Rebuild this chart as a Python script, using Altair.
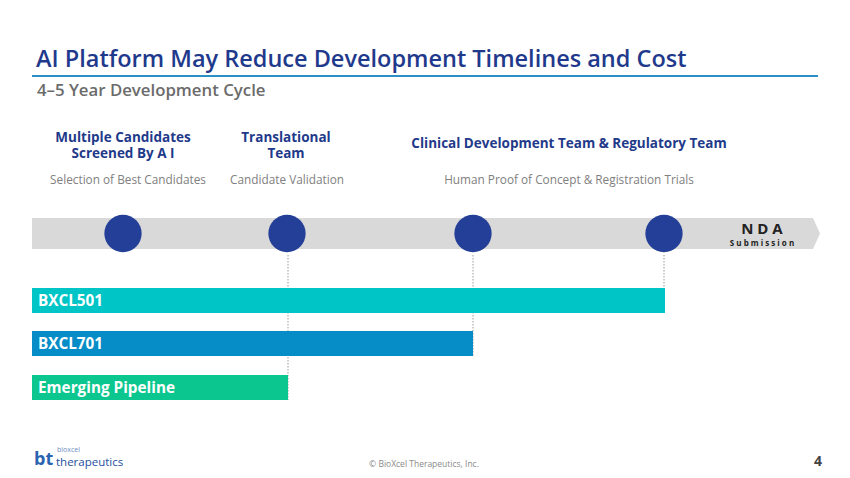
import altair as alt
import pandas as pd

# ---- page frame (data units == page pixels) ----
PX0, PX1 = 8, 842
PY0, PY1 = 8, 470

# ---- timeline ----
milestone_x = [123, 287, 473, 664]
milestone_y = [233.5, 233.5, 233.5, 233.5]
band_x0, band_x1 = [32], [813]
band_top, band_bottom = [218], [249]
tip_x = [813, 820]
tip_top = [218, 233.5]
tip_bottom = [249, 233.5]

# ---- programs ----
programs = ["BXCL501", "BXCL701", "Emerging Pipeline"]
program_start = [32, 32, 32]
program_end = [665, 473, 288]
program_top = [288, 331, 375]
program_bottom = [313, 356, 400]
program_colors = ["#00C5C7", "#068CC6", "#0BC68E"]

# ---- dotted guides from milestones to bars ----
guide_x = [288, 473, 664]
guide_top = [255, 255, 255]
guide_bottom = [400, 356, 313]

# ---- stage headers ----
header_text = ["Multiple Candidates\nScreened By A I", "Translational\nTeam",
               "Clinical Development Team & Regulatory Team"]
header_x = [123, 286, 569]
header_y = [141.5, 141.5, 147.5]
sub_text = ["Selection of Best Candidates", "Candidate Validation",
            "Human Proof of Concept & Registration Trials"]
sub_x = [128, 287, 569]
sub_y = [183.5, 183.5, 183.5]

title = "AI Platform May Reduce Development Timelines and Cost"
subtitle = "4\u20135 Year Development Cycle"

X = alt.Scale(domain=[PX0, PX1])
Y = alt.Scale(domain=[PY0, PY1], reverse=True)


def xq(f):
    return alt.X(f, type="quantitative", scale=X, axis=None)


def yq(f):
    return alt.Y(f, type="quantitative", scale=Y, axis=None)


band = alt.Chart(pd.DataFrame({"x": band_x0, "x2": band_x1, "y": band_top, "y2": band_bottom})).mark_rect(
    color="#D9D9D9"
).encode(x=xq("x"), x2="x2", y=yq("y"), y2="y2")

tip = alt.Chart(pd.DataFrame({"x": tip_x, "y": tip_top, "y2": tip_bottom})).mark_area(
    color="#D9D9D9", opacity=1, orient="vertical"
).encode(x=xq("x"), y=yq("y"), y2="y2")

underline = alt.Chart(pd.DataFrame({"x": [32], "x2": [818], "y": [76]})).mark_rule(
    color="#2A90C6", strokeWidth=2
).encode(x=xq("x"), x2="x2", y=yq("y"))

guides = alt.Chart(pd.DataFrame({"x": guide_x, "y": guide_top, "y2": guide_bottom})).mark_rule(
    color="#9A9A9A", strokeWidth=1, strokeDash=[1.5, 1.5]
).encode(x=xq("x"), y=yq("y"), y2="y2")

bars = alt.Chart(pd.DataFrame({
    "name": programs, "x": program_start, "x2": program_end,
    "y": program_top, "y2": program_bottom, "color": program_colors
})).mark_rect().encode(
    x=xq("x"), x2="x2", y=yq("y"), y2="y2", color=alt.Color("color:N", scale=None)
)

bar_labels = alt.Chart(pd.DataFrame({
    "name": programs, "x": [38, 38, 38],
    "y": [(t + b) / 2 + 5.5 for t, b in zip(program_top, program_bottom)]
})).mark_text(
    align="left", baseline="alphabetic", font="Open Sans", fontSize=15.3,
    fontWeight="bold", color="white"
).encode(x=xq("x"), y=yq("y"), text="name:N")

circles = alt.Chart(pd.DataFrame({"x": milestone_x, "y": milestone_y})).mark_circle(
    size=1390, color="#243F97", opacity=1
).encode(x=xq("x"), y=yq("y"))


def text_layer(texts, xs, ys, **kw):
    return alt.Chart(pd.DataFrame({"t": texts, "x": xs, "y": ys})).mark_text(
        baseline="alphabetic", font="Open Sans", **kw
    ).encode(x=xq("x"), y=yq("y"), text="t:N")


title_t = text_layer([title], [36], [67], align="left", fontSize=23.5,
                     fontWeight=600, color="#1F3A8C")
subtitle_t = text_layer([subtitle], [37], [96], align="left", fontSize=16.8,
                        fontWeight=600, color="#6B6B6B")
headers_t = text_layer(header_text, header_x, header_y, align="center", fontSize=13.5,
                       fontWeight="bold", color="#1F3A8A", lineBreak="\n", lineHeight=16.5)
subs_t = text_layer(sub_text, sub_x, sub_y, align="center", fontSize=11.8,
                    color="#808080")
nda_t = text_layer(["N D A"], [762], [234], align="center", fontSize=15,
                   fontWeight="bold", color="#222222")
subm_t = text_layer(["S u b m i s s i o n"], [762], [246], align="center", fontSize=8,
                    fontWeight="bold", color="#222222")
copy_t = text_layer(["\u00a9 BioXcel Therapeutics, Inc."], [424], [467], align="center",
                    fontSize=8.5, color="#8A8A8A")
page_t = text_layer(["4"], [818], [466], align="center", fontSize=14,
                    fontWeight="bold", color="#444444")
logo_bt = text_layer(["bt"], [34], [465], align="left", fontSize=18,
                     fontWeight="bold", color="#2A63B0")
logo_small = text_layer(["bioxcel"], [57], [452], align="left", fontSize=7,
                        color="#6F8FC0")
logo_main = text_layer(["therapeutics"], [56], [466], align="left", fontSize=11.5,
                       color="#1D4F9E")

chart = alt.layer(
    band, tip, underline, guides, bars, bar_labels, circles,
    title_t, subtitle_t, headers_t, subs_t, nda_t, subm_t,
    copy_t, page_t, logo_bt, logo_small, logo_main
).properties(
    width=PX1 - PX0, height=PY1 - PY0, padding=0, background="white",
    autosize=alt.AutoSizeParams(type="none")
).configure_view(stroke=None)

chart.save("out.html", embed_options={"renderer": "svg", "actions": False})
